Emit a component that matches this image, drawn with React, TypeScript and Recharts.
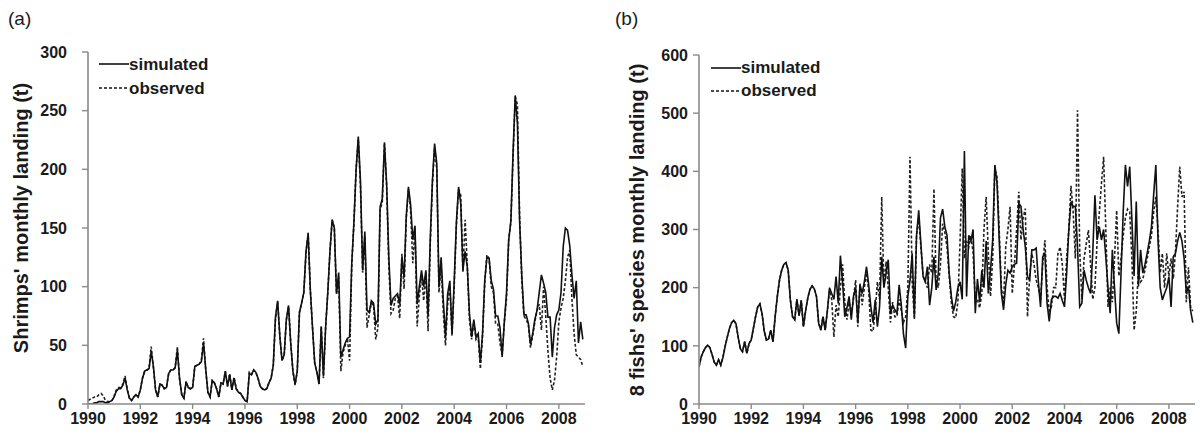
import React from "react";
import { LineChart, Line, XAxis, YAxis } from "recharts";

// Monthly values, Jan 1990 .. Dec 2008 (12 per row = one year)
const shrimpSimulated: number[] = [
  0, 0, 0, 1, 1, 2, 2, 2, 1, 1, 2, 3,
  6, 11, 13, 13, 16, 22, 12, 5, 3, 6, 8, 6,
  12, 22, 28, 29, 30, 45, 32, 12, 6, 17, 16, 13,
  14, 26, 29, 29, 31, 46, 22, 8, 5, 19, 14, 13,
  14, 32, 33, 34, 36, 52, 30, 10, 6, 20, 18, 13,
  6, 18, 17, 28, 15, 25, 12, 22, 13, 10, 9, 6,
  3, 2, 26, 25, 29, 27, 22, 15, 13, 12, 13, 18,
  22, 33, 74, 88, 58, 37, 42, 72, 84, 52, 28, 17,
  28, 78, 86, 95, 130, 145, 97, 65, 35, 27, 17, 66,
  24, 65, 95, 130, 157, 150, 94, 112, 40, 46, 52, 56,
  57, 120, 155, 200, 228, 190, 114, 147, 80, 78, 88, 86,
  68, 72, 168, 175, 222, 188, 125, 84, 90, 92, 94, 85,
  125, 108, 160, 185, 170, 140, 152, 85, 100, 114, 100, 114,
  75, 140, 190, 222, 205, 100, 125, 88, 57, 94, 105, 60,
  105, 155, 185, 171, 114, 130, 117, 77, 57, 72, 57, 60,
  35, 60, 105, 125, 124, 105, 98, 75, 75, 65, 40, 70,
  95, 140, 156, 215, 263, 239, 156, 110, 76, 76, 69, 51,
  60, 72, 80, 95, 110, 103, 95, 74, 74, 40, 65, 76,
  80, 95, 134, 150, 148, 135, 110, 90, 105, 52, 70, 55,
];

const shrimpObserved: number[] = [
  3, 4, 5, 6, 6, 8, 9, 7, 3, 2, 2, 3,
  7, 12, 14, 14, 17, 24, 13, 5, 3, 6, 8, 6,
  12, 22, 28, 29, 30, 49, 31, 12, 6, 17, 16, 13,
  14, 26, 29, 29, 31, 49, 21, 8, 5, 19, 14, 13,
  14, 32, 33, 34, 37, 56, 29, 10, 6, 20, 18, 13,
  6, 18, 17, 28, 15, 26, 12, 23, 13, 10, 9, 6,
  3, 2, 27, 25, 29, 27, 22, 15, 13, 12, 13, 18,
  22, 33, 72, 87, 58, 37, 42, 72, 83, 52, 28, 16,
  28, 78, 86, 95, 128, 146, 97, 65, 35, 27, 17, 66,
  22, 65, 95, 130, 157, 150, 94, 108, 28, 44, 50, 56,
  37, 118, 155, 200, 226, 185, 112, 143, 65, 76, 86, 84,
  55, 65, 165, 172, 223, 185, 118, 77, 80, 90, 92, 73,
  128, 98, 158, 183, 165, 120, 150, 66, 92, 110, 88, 112,
  62, 135, 188, 218, 200, 95, 118, 78, 50, 85, 100, 58,
  100, 152, 183, 178, 112, 157, 118, 72, 55, 70, 55, 58,
  30, 58, 103, 127, 124, 100, 95, 68, 68, 52, 42, 70,
  90, 140, 155, 210, 262, 255, 160, 105, 75, 72, 68, 48,
  58, 70, 80, 85, 63, 100, 75, 45, 22, 12, 20, 40,
  70, 82, 90, 105, 125, 131, 90, 60, 42, 40, 38, 32,
];

const fishSimulated: number[] = [
  64, 81, 90, 97, 101, 97, 85, 72, 67, 76, 67, 80,
  99, 115, 130, 140, 144, 138, 115, 95, 90, 107, 87, 104,
  110, 130, 150, 167, 172, 155, 125, 110, 112, 127, 107, 150,
  185, 213, 230, 240, 243, 230, 179, 150, 145, 180, 152, 178,
  133, 160, 182, 197, 203, 198, 185, 139, 127, 150, 127, 160,
  200, 190, 180, 219, 173, 255, 210, 150, 165, 185, 145, 185,
  200, 140, 205, 190, 210, 236, 205, 167, 140, 179, 133, 167,
  253, 200, 225, 248, 156, 170, 162, 156, 205, 170, 120, 96,
  185, 213, 259, 150, 290, 333, 275, 220, 210, 236, 170, 200,
  253, 196, 225, 320, 335, 305, 290, 225, 185, 160, 175, 200,
  210, 180, 435, 185, 290, 280, 300, 156, 215, 175, 230, 200,
  280, 190, 230, 282, 411, 380, 282, 190, 162, 205, 230, 225,
  236, 240, 242, 345, 340, 300, 270, 219, 213, 265, 265, 268,
  210, 167, 253, 259, 173, 142, 179, 185, 185, 182, 190, 178,
  167, 225, 300, 348, 339, 340, 270, 167, 173, 230, 213, 200,
  190, 260, 359, 282, 305, 282, 300, 253, 200, 156, 265, 200,
  139, 121, 225, 330, 411, 374, 408, 316, 220, 348, 202, 265,
  225, 240, 259, 280, 305, 360, 411, 282, 200, 179, 190, 200,
  219, 167, 253, 259, 280, 295, 280, 250, 190, 202, 160, 140,
];

const fishObserved: number[] = [
  64, 81, 90, 97, 101, 97, 85, 72, 67, 76, 67, 80,
  99, 115, 130, 140, 144, 138, 115, 95, 90, 107, 87, 104,
  110, 130, 150, 167, 172, 155, 125, 110, 112, 127, 107, 150,
  185, 213, 230, 240, 243, 230, 179, 150, 145, 180, 152, 178,
  133, 160, 182, 197, 203, 198, 185, 139, 127, 150, 127, 160,
  195, 180, 115, 170, 150, 200, 240, 175, 145, 175, 155, 180,
  213, 133, 207, 170, 200, 225, 195, 127, 125, 160, 210, 180,
  356, 200, 245, 200, 140, 175, 150, 150, 180, 160, 140, 150,
  200, 425, 210, 145, 290, 320, 270, 220, 210, 200, 240, 225,
  370, 210, 200, 240, 310, 295, 270, 220, 175, 150, 148, 175,
  280, 405, 250, 280, 270, 290, 260, 175, 180, 165, 190, 300,
  356, 260, 185, 250, 405, 390, 300, 200, 175, 270, 300, 339,
  190, 240, 300, 365, 282, 320, 336, 150, 220, 259, 240, 213,
  200, 179, 240, 282, 200, 160, 167, 200, 200, 259, 270, 240,
  180, 250, 300, 375, 330, 250, 505, 265, 180, 250, 275, 299,
  240, 180, 200, 280, 328, 379, 425, 300, 167, 200, 175, 250,
  333, 220, 250, 290, 320, 335, 330, 250, 127, 160, 230, 210,
  215, 230, 250, 270, 290, 330, 356, 300, 225, 259, 200, 259,
  220, 250, 215, 260, 339, 408, 356, 365, 175, 235, 165, 160,
];

const startYear = 1990;
const yearTicks = [1990, 1992, 1994, 1996, 1998, 2000, 2002, 2004, 2006, 2008];
const shrimpTicks = [0, 50, 100, 150, 200, 250, 300];
const fishTicks = [0, 100, 200, 300, 400, 500, 600];

const shrimpData = shrimpSimulated.map((v, i) => ({
  t: startYear + i / 12,
  sim: v,
  obs: shrimpObserved[i],
}));
const fishData = fishSimulated.map((v, i) => ({
  t: startYear + i / 12,
  sim: v,
  obs: fishObserved[i],
}));

const FONT = "'Liberation Sans', Arial, sans-serif";
const AXIS = "#8a8a8a";
const INK = "#1a1a1a";

const tickStyle = { fill: INK, fontSize: 16, fontWeight: "bold" as const, fontFamily: FONT };

function Panel(props: {
  data: any[];
  width: number;
  margin: any;
  yTicks: number[];
  yMax: number;
  yTickMargin: number;
}) {
  const { data, width, margin, yTicks, yMax, yTickMargin } = props;
  return (
    <LineChart width={width} height={436} data={data} margin={margin}>
      <XAxis
        dataKey="t"
        type="number"
        domain={[1990, 2009]}
        ticks={yearTicks}
        interval={0}
        allowDataOverflow
        tick={tickStyle}
        tickFormatter={(v: number) => String(Math.round(v))}
        axisLine={{ stroke: AXIS, strokeWidth: 1.6 }}
        tickLine={{ stroke: AXIS, strokeWidth: 1.4 }}
        tickSize={5}
        tickMargin={4}
        height={30}
      />
      <YAxis
        type="number"
        domain={[0, yMax]}
        ticks={yTicks}
        interval={0}
        allowDataOverflow
        tick={tickStyle}
        axisLine={{ stroke: AXIS, strokeWidth: 1.6 }}
        tickLine={{ stroke: AXIS, strokeWidth: 1.4 }}
        tickSize={6}
        tickMargin={yTickMargin}
        width={60}
      />
      <Line
        type="linear"
        dataKey="obs"
        stroke="#222"
        strokeWidth={1.6}
        strokeDasharray="3 2"
        dot={false}
        isAnimationActive={false}
      />
      <Line
        type="linear"
        dataKey="sim"
        stroke="#111"
        strokeWidth={1.6}
        dot={false}
        isAnimationActive={false}
      />
    </LineChart>
  );
}

function LegendBox(props: { left: number; top: number; rowH: number }) {
  const { left, top, rowH } = props;
  const row = (label: string, dashed: boolean) => (
    <div style={{ display: "flex", alignItems: "center", height: rowH }}>
      <svg width={30} height={4} style={{ display: "block" }}>
        <line
          x1={0}
          y1={2}
          x2={30}
          y2={2}
          stroke="#111"
          strokeWidth={1.6}
          strokeDasharray={dashed ? "3 2" : undefined}
        />
      </svg>
      <span style={{ fontFamily: FONT, fontWeight: "bold", fontSize: 17, color: INK, lineHeight: 1 }}>
        {label}
      </span>
    </div>
  );
  return (
    <div style={{ position: "absolute", left, top }}>
      {row("simulated", false)}
      {row("observed", true)}
    </div>
  );
}

function VTitle(props: { cx: number; cy: number; text: string }) {
  return (
    <div
      style={{
        position: "absolute",
        left: props.cx,
        top: props.cy,
        transform: "translate(-50%, -50%) rotate(-90deg)",
        whiteSpace: "nowrap",
        fontFamily: FONT,
        fontWeight: "bold",
        fontSize: 20,
        lineHeight: 1,
        color: INK,
      }}
    >
      {props.text}
    </div>
  );
}

export default function App() {
  return (
    <div
      style={{
        position: "absolute",
        left: 0,
        top: 0,
        width: 1202,
        height: 436,
        background: "#fff",
        overflow: "hidden",
      }}
    >
      <div style={{ position: "absolute", left: 0, top: 0 }}>
        <Panel
          data={shrimpData}
          width={600}
          margin={{ top: 52, right: 15, bottom: 2, left: 28 }}
          yTicks={shrimpTicks}
          yMax={300}
          yTickMargin={15}
        />
      </div>
      <div style={{ position: "absolute", left: 600, top: 0 }}>
        <Panel
          data={fishData}
          width={602}
          margin={{ top: 55, right: 7, bottom: 2, left: 39 }}
          yTicks={fishTicks}
          yMax={600}
          yTickMargin={5}
        />
      </div>
      <LegendBox left={99} top={52} rowH={24} />
      <LegendBox left={711} top={56} rowH={23} />
      <div style={{ position: "absolute", left: 8, top: 9, fontFamily: FONT, fontSize: 19, lineHeight: 1, color: INK }}>
        (a)
      </div>
      <div style={{ position: "absolute", left: 615, top: 9, fontFamily: FONT, fontSize: 19, lineHeight: 1, color: INK }}>
        (b)
      </div>
      <VTitle cx={21} cy={218} text="Shrimps' monthly landing (t)" />
      <VTitle cx={637} cy={230} text="8 fishs' species monthly landing (t)" />
    </div>
  );
}
